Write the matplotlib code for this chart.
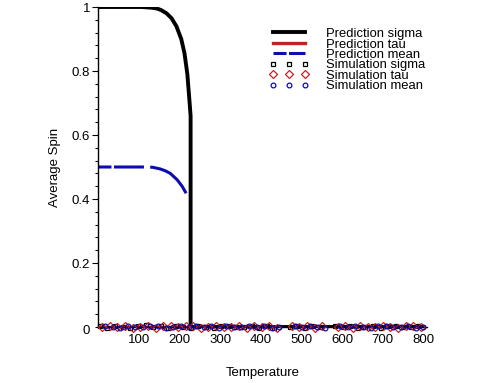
import matplotlib
matplotlib.use('Agg')
import matplotlib.pyplot as plt
from matplotlib.ticker import MultipleLocator

plt.rcParams['font.family'] = ['Liberation Sans', 'DejaVu Sans']
plt.rcParams['lines.scale_dashes'] = False

# Prediction curves.
sigma_T = [0, 60, 106, 130, 145, 155, 168, 180, 192, 204, 212, 219, 224, 227, 227, 800]
sigma = [1.0, 1.0, 1.0, 0.998, 0.995, 0.99, 0.98, 0.965, 0.94, 0.90, 0.855, 0.79, 0.71, 0.66, 0.0, 0.0]

tau_T = [0, 800]
tau = [0.0, 0.0]

mean_T = [0, 60, 122, 134, 152, 165, 177, 194, 206, 216]
mean = [0.5, 0.5, 0.5, 0.499, 0.494, 0.488, 0.48, 0.46, 0.44, 0.418]

# Simulation points.
sim_sigma_T = [4, 22, 41, 60, 79, 97, 116, 135, 153, 172, 190, 209, 228, 246,
               265, 284, 302, 321, 340, 358, 377, 396, 414, 433, 471, 489, 508,
               527, 545, 583, 601, 620, 639, 657, 676, 695, 713, 732, 751, 769,
               788]
sim_sigma = [0.003, -0.002, 0.004, 0.001, -0.003, 0.002, 0.005, -0.001, 0.002,
             -0.004, 0.003, 0.001, -0.002, 0.004, 0.000, -0.003, 0.002, 0.003,
             -0.001, 0.001, 0.004, -0.002, 0.002, -0.003, 0.001, 0.003, -0.002,
             0.002, 0.000, 0.004, -0.001, 0.002, -0.003, 0.001, 0.003, -0.002,
             0.002, 0.004, -0.001, 0.001, 0.002]

sim_tau_T = [10, 29, 47, 66, 85, 103, 122, 141, 159, 178, 197, 215, 234, 253,
             271, 290, 309, 327, 346, 365, 383, 402, 420, 439, 477, 495, 514,
             533, 551, 589, 607, 626, 645, 663, 682, 701, 719, 738, 757, 775,
             794]
sim_tau = [-0.001, 0.003, 0.000, 0.004, -0.002, 0.001, 0.003, -0.003, 0.002,
           0.004, -0.001, 0.002, 0.003, -0.002, 0.001, 0.004, -0.001, 0.000,
           0.003, -0.003, 0.002, 0.001, 0.004, -0.002, 0.003, 0.000, 0.002,
           -0.003, 0.004, 0.001, 0.002, -0.002, 0.003, 0.000, -0.001, 0.004,
           0.001, -0.002, 0.003, 0.002, -0.001]

sim_mean_T = [16, 35, 53, 72, 91, 110, 128, 147, 166, 184, 203, 222, 240, 259,
              278, 296, 315, 334, 352, 371, 390, 408, 427, 445, 483, 502, 520,
              539, 557, 595, 614, 632, 651, 670, 688, 707, 726, 744, 763, 782,
              800]
sim_mean = [0.002, 0.000, -0.002, 0.003, 0.001, -0.001, 0.002, 0.004, -0.003,
            0.001, 0.002, -0.001, 0.003, 0.000, 0.002, -0.002, 0.004, 0.001,
            -0.001, 0.002, 0.000, 0.003, -0.002, 0.001, 0.002, -0.001, 0.003,
            0.001, -0.002, 0.002, 0.000, 0.003, 0.001, -0.002, 0.002, 0.003,
            -0.001, 0.000, 0.002, -0.002, 0.001]

black = '#000000'
red = '#c82020'
blue = '#0c0cb0'

fig = plt.figure(figsize=(4.85, 3.83), dpi=100)
ax = fig.add_axes([98.4 / 485, 56 / 383, 329 / 485, 320 / 383])

ax.plot(tau_T, tau, color=red, lw=2.4, label='Prediction tau', zorder=2)
ax.plot(mean_T, mean, color=blue, lw=2.2, label='Prediction mean', zorder=2,
        linestyle=(0, (9.4, 1.8, 21.6, 4.5, 200, 0)))
ax.plot(sigma_T, sigma, color=black, lw=2.8, label='Prediction sigma', zorder=3)

mk = dict(linestyle='none', markerfacecolor='none', markeredgewidth=0.9,
          clip_on=False, zorder=4)
ax.plot(sim_sigma_T, sim_sigma, marker='s', markersize=3.4,
        markeredgecolor=black, label='Simulation sigma', **mk)
ax.plot(sim_tau_T, sim_tau, marker='D', markersize=3.6,
        markeredgecolor=red, label='Simulation tau', **mk)
ax.plot(sim_mean_T, sim_mean, marker='o', markersize=3.4,
        markeredgecolor=blue, label='Simulation mean', **mk)

ax.set_xlim(0, 810)
ax.set_ylim(0, 1)

for s in ('top', 'right'):
    ax.spines[s].set_visible(False)
ax.spines['left'].set_linewidth(1.0)
ax.spines['bottom'].set_linewidth(1.0)

ax.set_xticks([100, 200, 300, 400, 500, 600, 700, 800])
ax.set_yticks([0.2, 0.4, 0.6, 0.8, 1.0])
ax.set_yticklabels(['0.2', '0.4', '0.6', '0.8', '1'])
ax.yaxis.set_minor_locator(MultipleLocator(0.04))
ax.tick_params(axis='y', which='major', length=4, width=0.8, labelsize=9.5, pad=2)
ax.tick_params(axis='y', which='minor', length=2, width=0.8)
ax.tick_params(axis='x', which='major', length=0, labelsize=9.5, pad=5)
ax.text(-0.027, -0.013, '0', transform=ax.transAxes, ha='right', va='center',
        fontsize=9.5)

ax.set_xlabel('Temperature', fontsize=9.5, labelpad=15)
ax.set_ylabel('Average Spin', fontsize=9.5, labelpad=8)

h, l = ax.get_legend_handles_labels()
order = [2, 0, 1, 3, 4, 5]
ax.legend([h[i] for i in order], [l[i] for i in order],
          loc='upper left', bbox_to_anchor=(0.5, 0.955), frameon=False,
          fontsize=9.4, labelspacing=-0.13, handlelength=3.0, handletextpad=1.3,
          numpoints=3, borderpad=0)

fig.savefig('out.png', dpi=100)
